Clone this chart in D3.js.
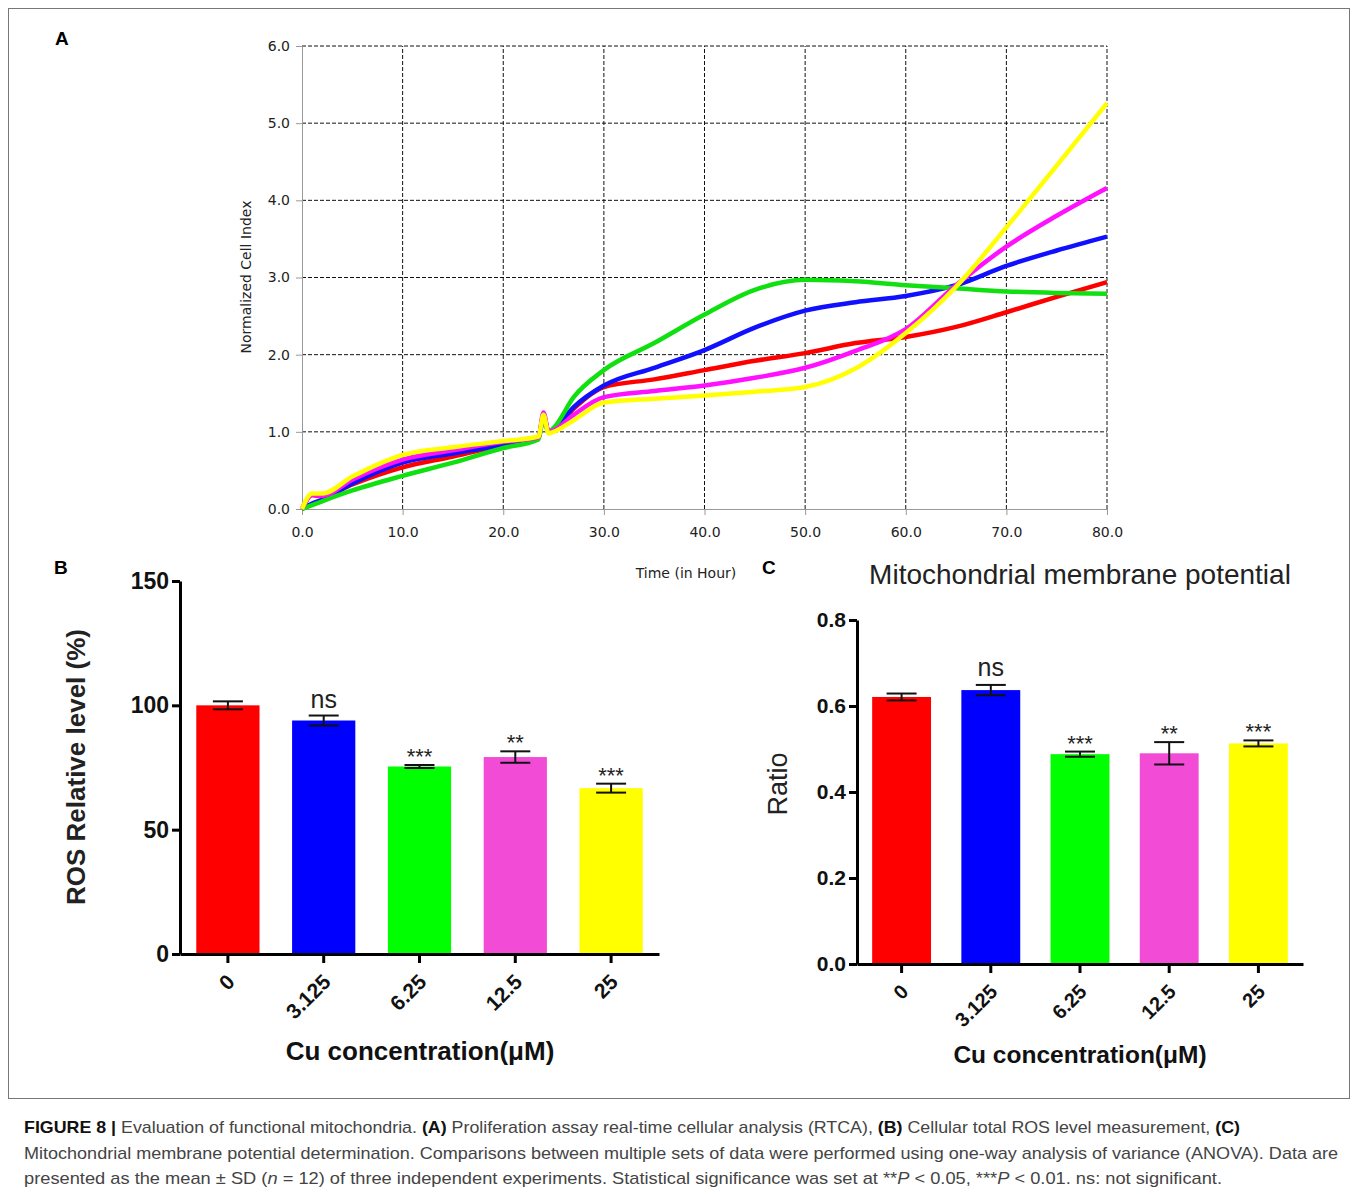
<!DOCTYPE html>
<html>
<head>
<meta charset="utf-8">
<script src="https://cdn.jsdelivr.net/npm/d3@7"></script>
<style>
  body { margin: 0; background: #fff; }
  svg { display: block; }
</style>
</head>
<body>
<div id="main"></div>
<script>
// ---- panel A : RTCA normalized cell index ----
const timeHours = [0, 1, 2, 5, 10, 15, 20, 23.5, 24, 24.5, 25, 27, 30, 35, 40, 45, 50, 55, 60, 65, 70, 75, 80];
const redCI     = [0, 0.18, 0.16, 0.32, 0.54, 0.68, 0.83, 0.92, 1.22, 1.0, 1.02, 1.30, 1.58, 1.68, 1.80, 1.92, 2.02, 2.15, 2.23, 2.36, 2.55, 2.75, 2.94];
const blueCI    = [0, 0.07, 0.12, 0.33, 0.60, 0.72, 0.83, 0.92, 1.20, 1.0, 1.03, 1.32, 1.60, 1.83, 2.06, 2.35, 2.57, 2.68, 2.76, 2.90, 3.15, 3.35, 3.53];
const greenCI   = [0, 0.05, 0.10, 0.24, 0.43, 0.60, 0.79, 0.90, 1.18, 1.0, 1.05, 1.45, 1.80, 2.15, 2.52, 2.84, 2.97, 2.95, 2.90, 2.86, 2.82, 2.80, 2.79];
const magentaCI = [0, 0.18, 0.17, 0.38, 0.64, 0.76, 0.87, 0.93, 1.25, 1.0, 1.02, 1.22, 1.45, 1.53, 1.60, 1.70, 1.83, 2.05, 2.33, 2.90, 3.40, 3.80, 4.16];
const yellowCI  = [0, 0.20, 0.20, 0.42, 0.70, 0.80, 0.88, 0.94, 1.22, 0.98, 1.00, 1.15, 1.38, 1.43, 1.47, 1.52, 1.58, 1.82, 2.28, 2.88, 3.65, 4.45, 5.26];
const lineColors = ['#ff0000', '#1010ff', '#10e010', '#ff10ff', '#ffff00'];
const timeTicks = [0, 10, 20, 30, 40, 50, 60, 70, 80];
const ciTicks = [0, 1, 2, 3, 4, 5, 6];

// ---- panels B and C : bars ----
const concLabels = ['0', '3.125', '6.25', '12.5', '25'];
const barColors = ['#ff0000', '#0000ff', '#00ff00', '#f24bd6', '#ffff00'];
const rosMean = [100, 93.9, 75.4, 79.2, 66.7];
const rosSD   = [1.6, 2.0, 0.6, 2.3, 1.8];
const rosSig  = ['', 'ns', '***', '**', '***'];
const rosTicks = [0, 50, 100, 150];
const mmpMean = [0.621, 0.637, 0.488, 0.490, 0.513];
const mmpSD   = [0.008, 0.012, 0.006, 0.026, 0.007];
const mmpSig  = ['', 'ns', '***', '**', '***'];
const mmpTicks = [0, 0.2, 0.4, 0.6, 0.8];

const W = 1358, H = 1194;
const svg = d3.select('#main').append('svg')
  .attr('width', W)
  .attr('height', H)
  .style('font-family', 'Arial, "Liberation Sans", sans-serif');

// figure frame
svg.append('rect')
  .attr('x', 8.5).attr('y', 8.5)
  .attr('width', 1341).attr('height', 1090)
  .attr('fill', 'none')
  .attr('stroke', '#777')
  .attr('stroke-width', 1);

// panel letters
[['A', 55, 45], ['B', 54, 574], ['C', 762, 574]].forEach(d => {
  svg.append('text')
    .attr('x', d[1]).attr('y', d[2])
    .attr('font-size', 19)
    .attr('font-weight', 'bold')
    .text(d[0]);
});

function drawPanelA() {
  const x = d3.scaleLinear().domain([0, 80]).range([302, 1107]);
  const y = d3.scaleLinear().domain([0, 6]).range([509, 46]);
  const g = svg.append('g').style('font-family', '"DejaVu Sans", Verdana, sans-serif');

  // dashed grid
  g.append('g')
    .selectAll('line')
    .data(timeTicks.filter(t => t > 0))
    .join('line')
      .attr('x1', d => x(d)).attr('x2', d => x(d))
      .attr('y1', y(0)).attr('y2', y(6))
      .attr('stroke', '#111')
      .attr('stroke-width', 1)
      .attr('stroke-dasharray', '4,2');
  g.append('g')
    .selectAll('line')
    .data(ciTicks.filter(t => t > 0))
    .join('line')
      .attr('x1', x(0)).attr('x2', x(80))
      .attr('y1', d => y(d)).attr('y2', d => y(d))
      .attr('stroke', '#111')
      .attr('stroke-width', 1)
      .attr('stroke-dasharray', '4,2');

  const yAxis = d3.axisLeft(y).tickValues(ciTicks).tickFormat(d3.format('.1f')).tickSize(6).tickSizeOuter(0).tickPadding(6);
  const xAxis = d3.axisBottom(x).tickValues(timeTicks).tickFormat(d3.format('.1f')).tickSize(6).tickSizeOuter(0).tickPadding(12);
  const ya = g.append('g').attr('transform', `translate(${x(0)},0)`).call(yAxis);
  const xa = g.append('g').attr('transform', `translate(0,${y(0)})`).call(xAxis);
  [ya, xa].forEach(a => {
    a.select('.domain').attr('stroke', '#999');
    a.selectAll('.tick line').attr('stroke', '#999');
    a.selectAll('text').attr('font-size', 14).attr('fill', '#222').style('font-family', '"DejaVu Sans", Verdana, sans-serif');
  });

  const series = [redCI, blueCI, greenCI, magentaCI, yellowCI];
  const line = d3.line()
    .x((d, i) => x(timeHours[i]))
    .y(d => y(d))
    .curve(d3.curveMonotoneX);
  g.append('g')
    .selectAll('path')
    .data(series)
    .join('path')
      .attr('d', d => line(d))
      .attr('fill', 'none')
      .attr('stroke', (d, i) => lineColors[i])
      .attr('stroke-width', 4.5)
      .attr('stroke-linejoin', 'round');

  g.append('text')
    .attr('transform', `translate(251,277) rotate(-90)`)
    .attr('text-anchor', 'middle')
    .attr('font-size', 14)
    .attr('fill', '#222')
    .text('Normalized Cell Index');
  g.append('text')
    .attr('x', 686).attr('y', 578)
    .attr('text-anchor', 'middle')
    .attr('font-size', 14)
    .attr('fill', '#222')
    .text('Time (in Hour)');
}

function drawBars(opt) {
  const x = d3.scaleBand().domain(concLabels).range(opt.xRange).paddingInner(0.34).paddingOuter(0.17);
  const y = d3.scaleLinear().domain(opt.yDomain).range(opt.yRange);
  const g = svg.append('g');

  g.append('g')
    .selectAll('rect')
    .data(opt.mean)
    .join('rect')
      .attr('x', (d, i) => x(concLabels[i]))
      .attr('y', d => y(d))
      .attr('width', x.bandwidth())
      .attr('height', d => y(0) - y(d))
      .attr('fill', (d, i) => barColors[i]);

  // error bars
  const eb = g.append('g')
    .selectAll('g')
    .data(opt.mean)
    .join('g')
      .attr('stroke', '#111')
      .attr('stroke-width', 2);
  eb.append('line')
    .attr('x1', (d, i) => x(concLabels[i]) + x.bandwidth() / 2)
    .attr('x2', (d, i) => x(concLabels[i]) + x.bandwidth() / 2)
    .attr('y1', (d, i) => y(d - opt.sd[i]))
    .attr('y2', (d, i) => y(d + opt.sd[i]));
  [-1, 1].forEach(s => {
    eb.append('line')
      .attr('x1', (d, i) => x(concLabels[i]) + x.bandwidth() / 2 - opt.cap)
      .attr('x2', (d, i) => x(concLabels[i]) + x.bandwidth() / 2 + opt.cap)
      .attr('y1', (d, i) => y(d + s * opt.sd[i]))
      .attr('y2', (d, i) => y(d + s * opt.sd[i]));
  });

  // significance marks
  g.append('g')
    .selectAll('text')
    .data(opt.mean)
    .join('text')
      .attr('x', (d, i) => x(concLabels[i]) + x.bandwidth() / 2)
      .attr('y', (d, i) => y(d + opt.sd[i]) - (opt.sig[i] === 'ns' ? opt.nsGap : 1))
      .attr('text-anchor', 'middle')
      .attr('font-size', (d, i) => opt.sig[i] === 'ns' ? opt.nsSize : 22)
      .attr('fill', '#222')
      .text((d, i) => opt.sig[i]);

  // axes
  const yAxis = d3.axisLeft(y).tickValues(opt.ticks).tickFormat(opt.fmt).tickSize(8).tickSizeOuter(0).tickPadding(3);
  const ya = g.append('g').attr('transform', `translate(${opt.xRange[0]},0)`).call(yAxis);
  ya.select('.domain').attr('stroke', '#000').attr('stroke-width', 3);
  ya.selectAll('.tick line').attr('stroke', '#000').attr('stroke-width', 3);
  ya.selectAll('text')
    .attr('font-size', opt.yTickSize)
    .attr('font-weight', 'bold')
    .attr('fill', '#111')
    .style('font-family', 'Arial, "Liberation Sans", sans-serif');

  const xAxis = d3.axisBottom(x).tickSize(9).tickSizeOuter(0).tickFormat('');
  const xa = g.append('g').attr('transform', `translate(0,${y(0)})`).call(xAxis);
  xa.select('.domain').attr('stroke', '#000').attr('stroke-width', 3);
  xa.selectAll('.tick line').attr('stroke', '#000').attr('stroke-width', 3);

  g.append('g')
    .selectAll('text')
    .data(concLabels)
    .join('text')
      .attr('transform', d => `translate(${x(d) + x.bandwidth() / 2 + 3},${y(0) + 24}) rotate(-45)`)
      .attr('text-anchor', 'end')
      .attr('dy', '0.35em')
      .attr('font-size', opt.xTickSize)
      .attr('font-weight', 'bold')
      .attr('fill', '#111')
      .text(d => d);

  g.append('text')
    .attr('transform', `translate(${opt.yTitlePos[0]},${opt.yTitlePos[1]}) rotate(-90)`)
    .attr('text-anchor', 'middle')
    .attr('font-size', opt.yTitleSize)
    .attr('font-weight', opt.yTitleWeight)
    .attr('fill', '#222')
    .text(opt.yTitle);
  g.append('text')
    .attr('x', opt.xTitlePos[0]).attr('y', opt.xTitlePos[1])
    .attr('text-anchor', 'middle')
    .attr('font-size', opt.xTitleSize)
    .attr('font-weight', 'bold')
    .attr('fill', '#111')
    .text('Cu concentration(\u03bcM)');
  if (opt.title) {
    g.append('text')
      .attr('x', opt.title[1]).attr('y', opt.title[2])
      .attr('text-anchor', 'middle')
      .attr('font-size', 28)
      .attr('fill', '#222')
      .text(opt.title[0]);
  }
}

drawPanelA();

drawBars({
  xRange: [180, 659], yDomain: [0, 150], yRange: [954, 581],
  mean: rosMean, sd: rosSD, sig: rosSig, ticks: rosTicks, fmt: d3.format('d'),
  cap: 15, nsGap: 8, nsSize: 25, yTickSize: 23, xTickSize: 21,
  yTitle: 'ROS Relative level (%)', yTitlePos: [85, 767], yTitleSize: 26, yTitleWeight: 'bold',
  xTitlePos: [420, 1060], xTitleSize: 26
});

drawBars({
  xRange: [857, 1303], yDomain: [0, 0.8], yRange: [964, 620],
  mean: mmpMean, sd: mmpSD, sig: mmpSig, ticks: mmpTicks, fmt: d3.format('.1f'),
  cap: 15, nsGap: 9, nsSize: 25, yTickSize: 21, xTickSize: 20,
  yTitle: 'Ratio', yTitlePos: [787, 784], yTitleSize: 27, yTitleWeight: 'normal',
  xTitlePos: [1080, 1063], xTitleSize: 24.5,
  title: ['Mitochondrial membrane potential', 1080, 584]
});

// caption
const capLines = [
  { y: 1133, len: 1216, parts: [
    ['FIGURE 8 | ', 'bold', 'normal', '#111'],
    ['Evaluation of functional mitochondria. ', 'normal', 'normal'],
    ['(A)', 'bold', 'normal', '#111'],
    [' Proliferation assay real-time cellular analysis (RTCA), ', 'normal', 'normal'],
    ['(B)', 'bold', 'normal', '#111'],
    [' Cellular total ROS level measurement, ', 'normal', 'normal'],
    ['(C)', 'bold', 'normal', '#111']
  ]},
  { y: 1159, len: 1314, parts: [
    ['Mitochondrial membrane potential determination. Comparisons between multiple sets of data were performed using one-way analysis of variance (ANOVA). Data are', 'normal', 'normal']
  ]},
  { y: 1184, len: 1198, parts: [
    ['presented as the mean \u00b1 SD (', 'normal', 'normal'],
    ['n', 'normal', 'italic'],
    [' = 12) of three independent experiments. Statistical significance was set at **', 'normal', 'normal'],
    ['P', 'normal', 'italic'],
    [' < 0.05, ***', 'normal', 'normal'],
    ['P', 'normal', 'italic'],
    [' < 0.01. ns: not significant.', 'normal', 'normal']
  ]}
];
capLines.forEach(l => {
  const t = svg.append('text')
    .attr('x', 24).attr('y', l.y)
    .attr('font-size', 17)
    .attr('fill', '#444')
    .attr('textLength', l.len)
    .attr('lengthAdjust', 'spacingAndGlyphs')
    .style('font-family', '"Liberation Sans Narrow", "Arial Narrow", Arial, sans-serif');
  l.parts.forEach(p => {
    t.append('tspan')
      .attr('font-weight', p[1])
      .attr('font-style', p[2])
      .attr('fill', p[3] || '#444')
      .text(p[0]);
  });
});
</script>
</body>
</html>
